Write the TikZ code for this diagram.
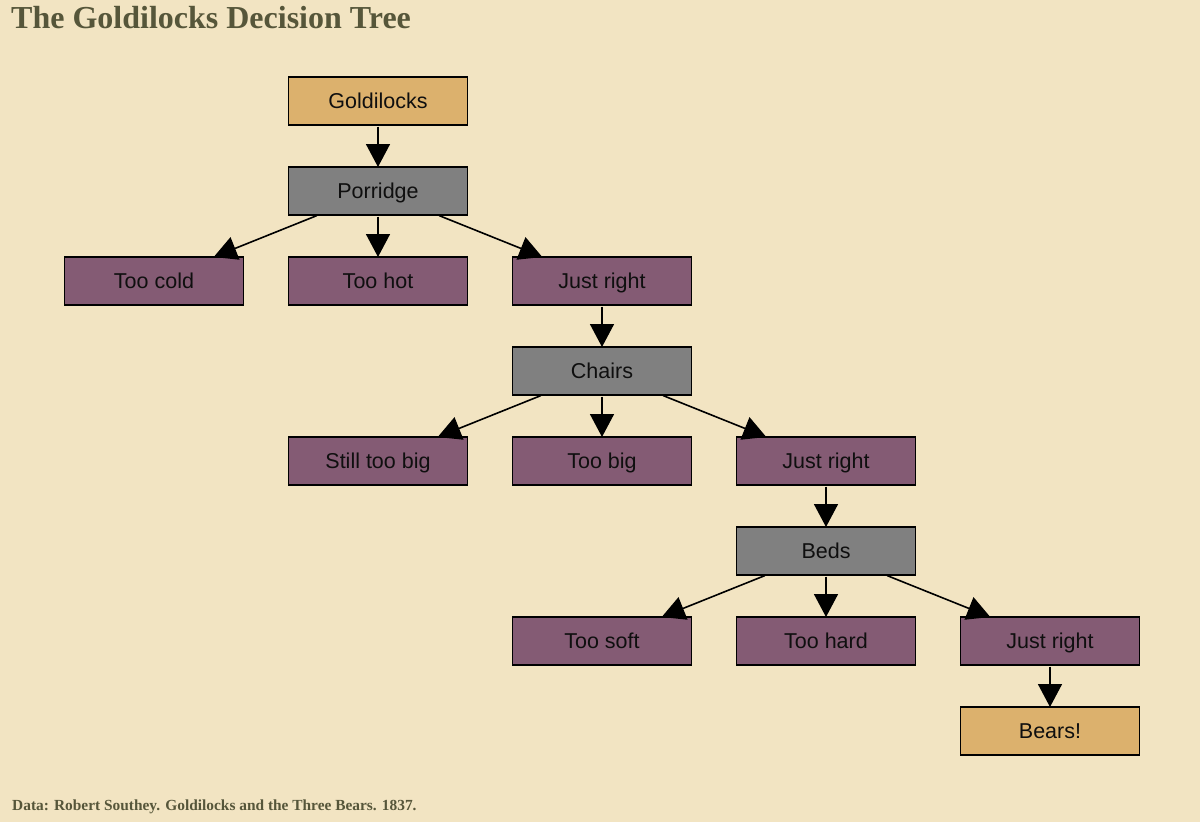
\documentclass[tikz,border=0pt]{standalone}
\usepackage{fontspec}
\setmainfont{Liberation Serif}
\newfontfamily\boxfont{Liberation Sans}
\usetikzlibrary{arrows.meta}
\definecolor{bgc}{RGB}{242,228,194}
\definecolor{goldc}{RGB}{220,177,109}
\definecolor{greyc}{RGB}{128,128,128}
\definecolor{purc}{RGB}{132,91,116}
\definecolor{titlec}{RGB}{86,86,58}
\definecolor{txtc}{RGB}{15,15,15}
\tikzset{
  box/.style={draw=black, line width=1.5pt, minimum width=179pt, minimum height=48pt,
    inner sep=0pt, outer sep=0pt, text height=15pt, text depth=0pt,
    font=\boxfont\fontsize{21.5pt}{24pt}\selectfont, text=txtc},
  startbox/.style={box, fill=goldc},
  catbox/.style={box, fill=greyc},
  optbox/.style={box, fill=purc},
  edge/.style={line width=1.6pt, -{Triangle[length=23pt,width=24pt]}, shorten <=1.5pt}
}
\begin{document}
\begin{tikzpicture}[x=1pt,y=-1pt]
\useasboundingbox[fill=bgc] (0,0) rectangle (1200,822);
\node[anchor=base west, text=titlec, font=\bfseries\fontsize{32pt}{36pt}\selectfont, inner sep=0pt] (title) at (11,28) {The Goldilocks Decision Tree};
\node[anchor=base west, text=titlec, font=\bfseries\fontsize{15.4pt}{18pt}\selectfont, inner sep=0pt] (caption) at (12,810) {Data: Robert Southey. Goldilocks and the Three Bears. 1837.};

\node[startbox] (gold) at (378,101) {Goldilocks};
\node[catbox] (porridge) at (378,191) {Porridge};
\node[optbox] (toocold) at (154,281) {Too cold};
\node[optbox] (toohot) at (378,281) {Too hot};
\node[optbox] (jr1) at (602,281) {Just right};
\node[catbox] (chairs) at (602,371) {Chairs};
\node[optbox] (stillbig) at (378,461) {Still too big};
\node[optbox] (toobig) at (602,461) {Too big};
\node[optbox] (jr2) at (826,461) {Just right};
\node[catbox] (beds) at (826,551) {Beds};
\node[optbox] (toosoft) at (602,641) {Too soft};
\node[optbox] (toohard) at (826,641) {Too hard};
\node[optbox] (jr3) at (1050,641) {Just right};
\node[startbox] (bears) at (1050,731) {Bears!};

\draw[edge] (gold) -- (porridge);
\draw[edge] (porridge) -- (toocold);
\draw[edge] (porridge) -- (toohot);
\draw[edge] (porridge) -- (jr1);
\draw[edge] (jr1) -- (chairs);
\draw[edge] (chairs) -- (stillbig);
\draw[edge] (chairs) -- (toobig);
\draw[edge] (chairs) -- (jr2);
\draw[edge] (jr2) -- (beds);
\draw[edge] (beds) -- (toosoft);
\draw[edge] (beds) -- (toohard);
\draw[edge] (beds) -- (jr3);
\draw[edge] (jr3) -- (bears);
\end{tikzpicture}
\end{document}
